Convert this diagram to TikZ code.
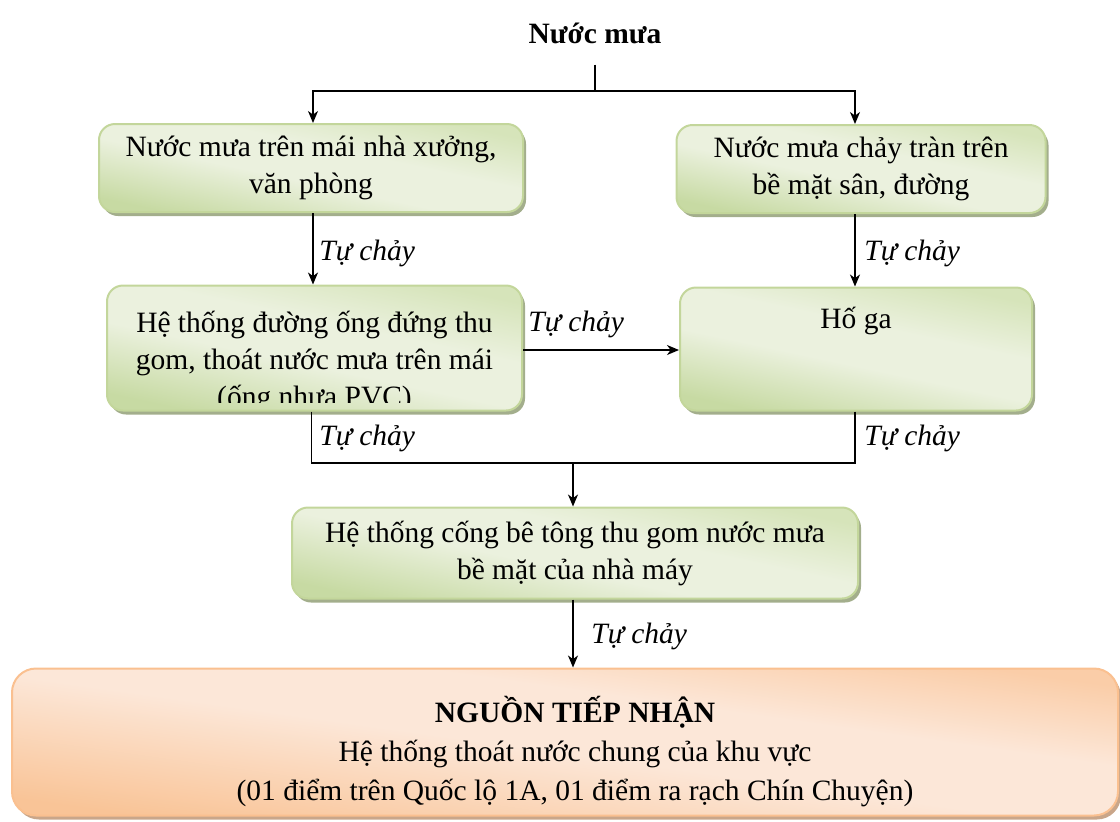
\documentclass[tikz,border=0pt]{standalone}
\usepackage{fontspec}
\setmainfont{Liberation Serif}
\usetikzlibrary{arrows.meta,shadows}

\definecolor{gDark}{HTML}{C7DAA3}
\definecolor{gLight}{HTML}{EBF1DE}
\definecolor{gTop}{HTML}{D6E4BA}
\definecolor{gBorder}{HTML}{C3D69B}
\definecolor{gShadow}{HTML}{A3AE8C}
\definecolor{oDark}{HTML}{F9C497}
\definecolor{oLight}{HTML}{FCE7D8}
\definecolor{oTop}{HTML}{FACDA8}
\definecolor{oBorder}{HTML}{FAC090}
\definecolor{oShadow}{HTML}{C9A68A}

% soft diagonal bands for the box fills (25bp = bottom edge, 75bp = top edge)
\pgfdeclareverticalshading{greenband}{100bp}{color(0bp)=(gDark); color(25bp)=(gDark);
  color(45bp)=(gLight); color(58bp)=(gLight); color(75bp)=(gTop); color(100bp)=(gTop)}
\pgfdeclareverticalshading{orangeband}{100bp}{color(0bp)=(oDark); color(25bp)=(oDark);
  color(48bp)=(oLight); color(60bp)=(oLight); color(75bp)=(oTop); color(100bp)=(oTop)}

\tikzset{
  every node/.style={font=\fontsize{14.75pt}{18.5pt}\selectfont, text=black},
  gbox/.style={draw=gBorder, line width=1pt, rounded corners=8pt, shade, shading=greenband,
    shading angle=-12, inner sep=0pt, align=center,
    drop shadow={shadow xshift=1.5pt, shadow yshift=-2pt, fill=gShadow, opacity=1}},
  obox/.style={draw=oBorder, line width=1pt, rounded corners=12pt, shade, shading=orangeband,
    shading angle=-8, inner sep=0pt,
    drop shadow={shadow xshift=1.5pt, shadow yshift=-2pt, fill=oShadow, opacity=1}},
  flow/.style={line width=0.65pt, draw=black},
  flowarr/.style={flow, -{Stealth[length=6pt, width=5pt, inset=1.8pt]}},
  tag/.style={font=\fontsize{14.75pt}{18.5pt}\selectfont\itshape, anchor=west, inner sep=0pt}
}

\begin{document}
\begin{tikzpicture}[x=0.5pt, y=-0.5pt]
\useasboundingbox (0,0) rectangle (1120,821);

% title
\node[font=\fontsize{14.75pt}{18.5pt}\selectfont\bfseries] (title) at (595,33) {Nước mưa};

% first row
\node[gbox, minimum width=212pt, minimum height=44pt] (b1) at (311,168)
  {Nước mưa trên mái nhà xưởng,\\ văn phòng};
\node[gbox, minimum width=184.5pt, minimum height=44pt] (b2) at (861,169)
  {Nước mưa chảy tràn trên\\ bề mặt sân, đường};

% second row
\node[gbox, minimum width=207.5pt, minimum height=62.5pt] (b3) at (314.5,348) {};
\begin{scope}
  \clip (100,280) rectangle (530,402);
  \node[align=center, inner sep=0pt] (b3t) at (314.5,362)
    {Hệ thống đường ống đứng thu\\ gom, thoát nước mưa trên mái\\ (ống nhựa PVC)};
\end{scope}
\node[gbox, minimum width=176pt, minimum height=61.5pt] (b4) at (856,349) {};
\node[inner sep=0pt] (b4t) at (856,321) {Hố ga};

% collector
\node[gbox, minimum width=283pt, minimum height=45.5pt] (b5) at (575,553)
  {Hệ thống cống bê tông thu gom nước mưa\\ bề mặt của nhà máy};

% receiving source
\node[obox, minimum width=553pt, minimum height=73.5pt] (b6) at (565,742) {};
\node[align=center, inner sep=0pt, font=\fontsize{14.75pt}{19.5pt}\selectfont] (b6t) at (575,752)
  {\textbf{NGUỒN TIẾP NHẬN}\\ Hệ thống thoát nước chung của khu vực\\
   (01 điểm trên Quốc lộ 1A, 01 điểm ra rạch Chín Chuyện)};

% split of the rainfall
\coordinate (j1) at (595,91);
\draw[flow] ([yshift=-7pt]title.south) -- (j1);
\draw[flowarr] (j1) -| ([xshift=1pt]b1.north);
\draw[flowarr] (j1) -| ([xshift=-3pt]b2.north);

% gravity flow to the second row
\draw[flowarr] ([xshift=1pt]b1.south) -- ([xshift=1pt]b1.south |- b3.north);
\node[tag] (t1) at (319,253) {Tự chảy};
\draw[flowarr] ([xshift=-3pt]b2.south) -- ([xshift=-3pt]b2.south |- b4.north);
\node[tag] (t2) at (864,253) {Tự chảy};

% roof pipes to the catch basin
\draw[flowarr] ([yshift=-1pt]b3.east) -- ([yshift=-1pt]b3.east -| b4.west);
\node[tag] (t3) at (528,324) {Tự chảy};

% both into the concrete drain
\coordinate (j2) at (573,463);
\draw[flow] ([xshift=-1.5pt]b3.south) |- (j2);
\draw[flow] ([xshift=-0.5pt]b4.south) |- (j2);
\draw[flowarr] (j2) -- (j2 |- b5.north);
\node[tag] (t4) at (319,438) {Tự chảy};
\node[tag] (t5) at (864,438) {Tự chảy};

% drain to the receiving source
\draw[flowarr] ([xshift=-1pt]b5.south) -- ([xshift=-1pt]b5.south |- b6.north);
\node[tag] (t6) at (591,636) {Tự chảy};
\end{tikzpicture}
\end{document}
